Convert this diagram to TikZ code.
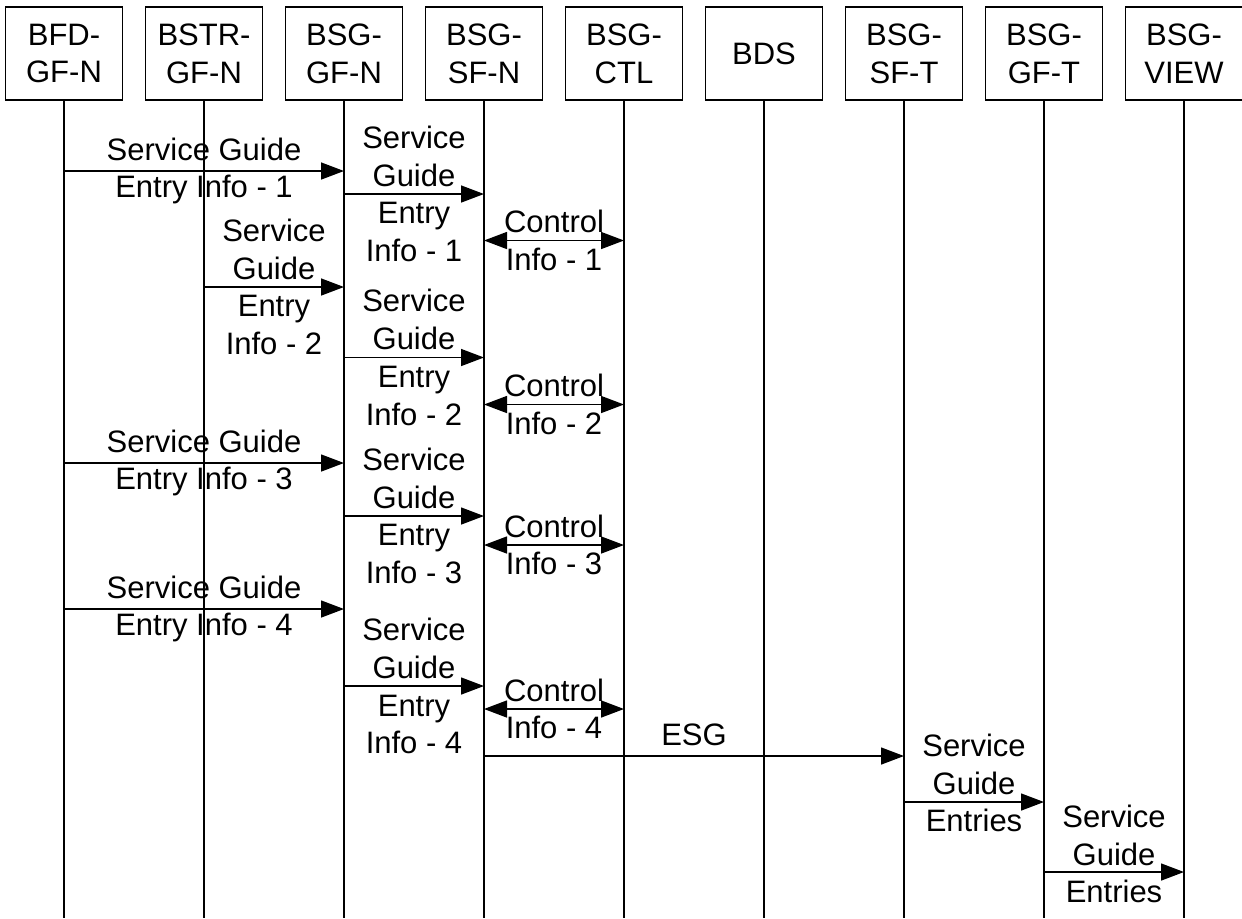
\documentclass[tikz,border=0pt]{standalone}
\usepackage{fontspec}
\setmainfont{Liberation Sans}
\usetikzlibrary{arrows.meta}

\begin{document}
\begin{tikzpicture}[x=0.5pt, y=-0.5pt, line width=0.75pt,
    every node/.style={font=\fontsize{15.5}{18.9}\selectfont},
    ent/.style={draw, minimum width=58.5pt, minimum height=46.5pt, inner sep=0pt, align=center},
    lbl/.style={align=center, inner sep=0pt},
    msg/.style={-{Triangle[length=11.5pt, width=8.5pt]}},
    duplex/.style={{Triangle[length=11.5pt, width=8.5pt]}-{Triangle[length=11.5pt, width=8.5pt]}}]
  \useasboundingbox (0,0) rectangle (1242,918);
  % entities and their lifelines
  \foreach \n/\t [count=\i from 0] in {bfd/{BFD-\\GF-N}, bstr/{BSTR-\\GF-N}, gfn/{BSG-\\GF-N},
      sfn/{BSG-\\SF-N}, ctl/{BSG-\\CTL}, bds/BDS, sft/{BSG-\\SF-T}, gft/{BSG-\\GF-T}, view/{BSG-\\VIEW}} {
    \node[ent] (\n) at ({64+140*\i},53.5) {\t};
    \draw (\n.south) -- (\n |- 0,918);
  }
  % round 1
  \draw[msg] (bfd |- 0,171) -- (gfn |- 0,171) node[lbl, midway] {Service Guide\\Entry Info - 1};
  \draw[msg] (gfn |- 0,194) -- (sfn |- 0,194) node[lbl, midway] {Service\\Guide\\Entry\\Info - 1};
  \draw[duplex] (sfn |- 0,240.5) -- (ctl |- 0,240.5) node[lbl, midway] {Control\\Info - 1};
  % round 2
  \draw[msg] (bstr |- 0,287) -- (gfn |- 0,287) node[lbl, midway] {Service\\Guide\\Entry\\Info - 2};
  \draw[msg] (gfn |- 0,357.5) -- (sfn |- 0,357.5) node[lbl, midway] {Service\\Guide\\Entry\\Info - 2};
  \draw[duplex] (sfn |- 0,404.5) -- (ctl |- 0,404.5) node[lbl, midway] {Control\\Info - 2};
  % round 3
  \draw[msg] (bfd |- 0,463) -- (gfn |- 0,463) node[lbl, midway] {Service Guide\\Entry Info - 3};
  \draw[msg] (gfn |- 0,516) -- (sfn |- 0,516) node[lbl, midway] {Service\\Guide\\Entry\\Info - 3};
  \draw[duplex] (sfn |- 0,545) -- (ctl |- 0,545) node[lbl, midway] {Control\\Info - 3};
  % round 4
  \draw[msg] (bfd |- 0,609) -- (gfn |- 0,609) node[lbl, midway] {Service Guide\\Entry Info - 4};
  \draw[msg] (gfn |- 0,686) -- (sfn |- 0,686) node[lbl, midway] {Service\\Guide\\Entry\\Info - 4};
  \draw[duplex] (sfn |- 0,709) -- (ctl |- 0,709) node[lbl, midway] {Control\\Info - 4};
  % delivery to the terminal
  \draw[msg] (sfn |- 0,756) -- (sft |- 0,756) node[lbl, midway, above=4.5pt] {ESG};
  \draw[msg] (sft |- 0,802) -- (gft |- 0,802) node[lbl, midway, yshift=9.5pt] {Service\\Guide\\Entries};
  \draw[msg] (gft |- 0,872) -- (view |- 0,872) node[lbl, midway, yshift=9pt] {Service\\Guide\\Entries};
\end{tikzpicture}
\end{document}
